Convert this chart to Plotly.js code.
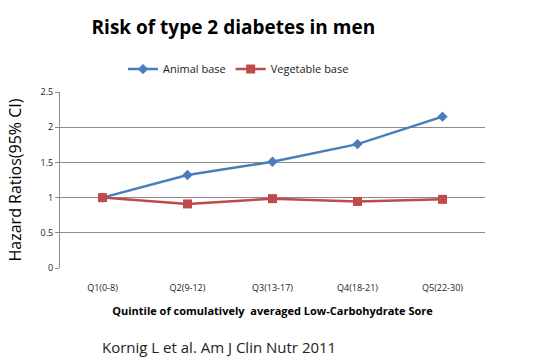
<!DOCTYPE html>
<html><head><meta charset="utf-8">
<script src="https://cdn.plot.ly/plotly-3.0.1.min.js"></script>
<style>html,body{margin:0;padding:0;background:#fff}#c{width:553px;height:363px}</style>
</head><body><div id="c"></div>
<script>
const categories = ["Q1(0-8)", "Q2(9-12)", "Q3(13-17)", "Q4(18-21)", "Q5(22-30)"];
const animalBase = [1.0, 1.32, 1.51, 1.76, 2.15];
const vegetableBase = [1.0, 0.91, 0.985, 0.945, 0.975];
const yTicks = [0, 0.5, 1, 1.5, 2, 2.5];
const yTickLabels = ["0", "0.5", "1", "1.5", "2", "2.5"];

const traces = [
  {x: categories, y: animalBase, name: "Animal base", type: "scatter", mode: "lines+markers",
   line: {color: "#4a7ebb", width: 2.5}, marker: {symbol: "diamond", size: 8, color: "#4a7ebb"}},
  {x: categories, y: vegetableBase, name: "Vegetable base", type: "scatter", mode: "lines+markers",
   line: {color: "#be4b48", width: 2.5}, marker: {symbol: "square", size: 9, color: "#be4b48"}}
];
const layout = {
  width: 553, height: 363,
  margin: {l: 60, r: 68, t: 92, b: 95},
  paper_bgcolor: "#fff", plot_bgcolor: "#fff",
  font: {family: "Open Sans, sans-serif", color: "#000"},
  title: {text: "<b>Risk of type 2 diabetes in men</b>", x: 0.422, xanchor: "center", y: 0.925, yanchor: "middle",
          font: {size: 19, family: "Open Sans, sans-serif", color: "#000"}},
  showlegend: true,
  legend: {orientation: "h", x: 0.42, xanchor: "center", y: 1.13, yanchor: "middle",
           font: {size: 11, color: "#222"}, itemwidth: 30, tracegroupgap: 0},
  xaxis: {type: "category", range: [-0.5, 4.5], showgrid: false, zeroline: false, showline: false, ticks: "",
          tickfont: {size: 9, color: "#222"}, ticklabelstandoff: 13,
          title: {text: "<b>Quintile of comulatively  averaged Low-Carbohydrate Sore</b>", standoff: 14,
                  font: {size: 11, color: "#000"}}},
  yaxis: {range: [0, 2.5], tickvals: yTicks, ticktext: yTickLabels, showgrid: true, gridcolor: "#8c8c8c", gridwidth: 1,
          zeroline: false, showline: true, linecolor: "#8c8c8c", ticks: "outside", ticklen: 4, tickcolor: "#8c8c8c",
          tickfont: {size: 9, color: "#222"},
          title: {text: "Hazard Ratios(95% CI)", standoff: 14, font: {size: 16, color: "#000"}}},
  annotations: [{text: "Kornig L et al. Am J Clin Nutr 2011", xref: "paper", yref: "paper", x: 0.375, y: -0.45,
                 xanchor: "center", yanchor: "middle", showarrow: false, font: {size: 15, color: "#222"}}]
};
Plotly.newPlot("c", traces, layout, {displayModeBar: false, staticPlot: true});
</script></body></html>
